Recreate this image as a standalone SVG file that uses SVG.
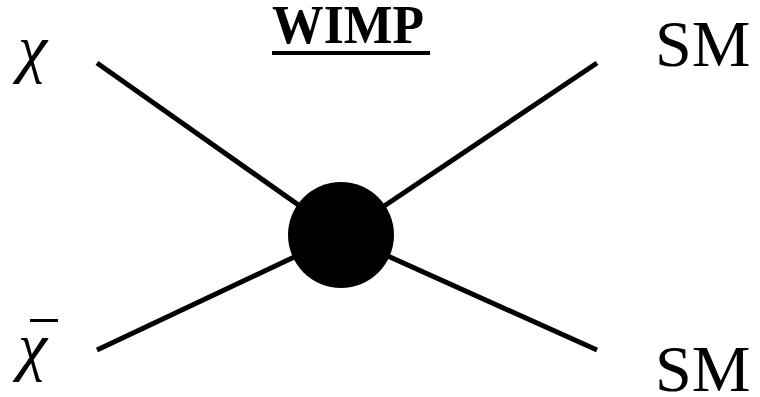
<svg xmlns="http://www.w3.org/2000/svg" width="760" height="397" viewBox="0 0 760 397">
<style>
.lbl{font-family:"Liberation Serif","Times New Roman",serif;fill:#000}
.greek{font-family:"Liberation Serif","DejaVu Serif",serif;font-style:italic;fill:#000}
.leg{stroke:#000;stroke-width:5;fill:none}
</style>
<rect width="760" height="397" fill="#fff"/>
<g id="connectors">
<line class="leg" x1="97" y1="63" x2="341" y2="235"/>
<line class="leg" x1="97" y1="350" x2="341" y2="235"/>
<line class="leg" x1="597" y1="63" x2="341" y2="235"/>
<line class="leg" x1="597" y1="350" x2="341" y2="235"/>
</g>
<g id="vertex"><circle cx="341" cy="235" r="53" fill="#000"/></g>
<g id="title">
<text class="lbl" x="272" y="43" font-size="55" font-weight="bold" textLength="152" lengthAdjust="spacingAndGlyphs">WIMP</text>
<rect x="272" y="51" width="158" height="4" fill="#000"/>
</g>
<g id="chi"><text class="greek" x="18" y="70" font-size="66">χ</text></g>
<g id="chibar"><text class="greek" x="18" y="368" font-size="66">χ</text><rect x="30" y="319" width="28" height="3" fill="#000"/></g>
<g id="sm1"><text class="lbl" x="655" y="66" font-size="66">SM</text></g>
<g id="sm2"><text class="lbl" x="655" y="391" font-size="66">SM</text></g>
</svg>
